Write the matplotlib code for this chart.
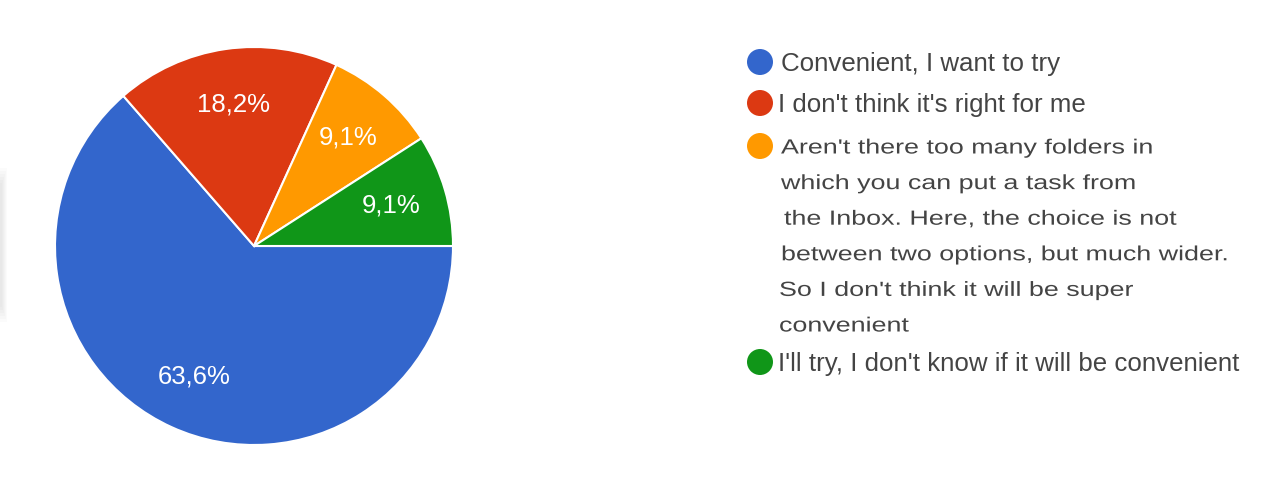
import matplotlib.pyplot as plt
from matplotlib.patches import Circle, Rectangle, PathPatch
from matplotlib.textpath import TextPath
from matplotlib.font_manager import FontProperties
from matplotlib.transforms import Affine2D

# data
labels = ["Convenient, I want to try",
          "I don't think it's right for me",
          "Aren't there too many folders in\nwhich you can put a task from\nthe Inbox. Here, the choice is not\nbetween two options, but much wider.\nSo I don't think it will be super\nconvenient",
          "I'll try, I don't know if it will be convenient"]
shares = [63.6, 18.2, 9.1, 9.1]
colors = ['#3366CC', '#DC3912', '#FF9900', '#109618']

H = 491
plt.rcParams['font.family'] = ['Liberation Sans', 'DejaVu Sans']
fig = plt.figure(figsize=[12.8, 4.91], dpi=100)
ax = fig.add_axes([0, 0, 1, 1])

wedges, texts, autotexts = ax.pie(
    shares, colors=colors, startangle=0, counterclock=False,
    center=(254, H - 246), radius=199, pctdistance=0.72,
    autopct=lambda p: ('%.1f%%' % p).replace('.', ','),
    wedgeprops=dict(edgecolor='white', linewidth=1.5),
    textprops=dict(color='white', fontsize=18.5))
ax.set_xlim(0, 1280)
ax.set_ylim(0, H)
ax.axis('off')

# faint shadow at left edge
for i in range(6):
    ax.add_patch(Rectangle((0, H - 322 + i * 3), 7 - i, 154 - i * 6,
                           color='#999999', alpha=0.035, lw=0))

fp = FontProperties(family='Liberation Sans')
txt_color = '#444444'

# legend drawn by hand
dot_y = [62, 103, 146, 362]
text_x = [781, 778, 781, 778]
for k in range(len(labels)):
    ax.add_patch(Circle((760, H - dot_y[k]), 13, color=colors[k], lw=0))
    lines = labels[k].split('\n')
    if len(lines) == 1:
        ax.text(text_x[k], H - dot_y[k] - 1.5, lines[0], fontsize=18.6,
                color=txt_color, va='center', ha='left')
        continue
    # the long answer is drawn a bit flatter and wider, as in the screenshot
    for j, line in enumerate(lines):
        xoff = [0, 0, 3, 0, -2, -2][j]
        tp = TextPath((0, 0), line, size=20.5, prop=fp)
        tr = Affine2D().scale(1.31, 1.0).translate(text_x[k] + xoff,
                                                   H - (dot_y[k] + j * 35.6) - 7.5)
        ax.add_patch(PathPatch(tr.transform_path(tp), color=txt_color, lw=0))

fig.savefig('out.png', dpi=100)
